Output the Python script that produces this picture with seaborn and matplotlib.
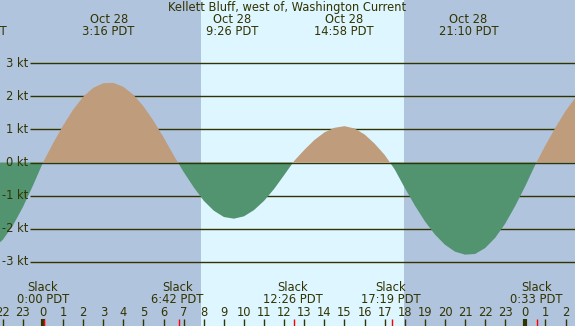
import numpy as np
import pandas as pd
import matplotlib
matplotlib.use("Agg")
import matplotlib.pyplot as plt
import seaborn as sns

# current speed (kt), every half hour (hours from midnight Oct 28 PDT)
hours = [-3.0, -2.5, -2.0, -1.5, -1.0, -0.5, 0.0, 0.5, 1.0, 1.5, 2.0, 2.5, 3.0,
         3.5, 4.0, 4.5, 5.0, 5.5, 6.0, 6.5, 7.0, 7.5, 8.0, 8.5, 9.0, 9.5, 10.0,
         10.5, 11.0, 11.5, 12.0, 12.5, 13.0, 13.5, 14.0, 14.5, 15.0, 15.5, 16.0,
         16.5, 17.0, 17.5, 18.0, 18.5, 19.0, 19.5, 20.0, 20.5, 21.0, 21.5, 22.0,
         22.5, 23.0, 23.5, 24.0, 24.5, 25.0, 25.5, 26.0, 26.5, 27.0]
speed = [-2.70, -2.61, -2.34, -1.91, -1.35, -0.70, 0.00, 0.58, 1.12, 1.60, 1.99,
         2.26, 2.40, 2.41, 2.29, 2.05, 1.70, 1.26, 0.76, 0.22, -0.29, -0.75,
         -1.16, -1.46, -1.65, -1.70, -1.63, -1.44, -1.16, -0.80, -0.38, 0.05,
         0.38, 0.68, 0.91, 1.05, 1.10, 1.03, 0.85, 0.57, 0.23, -0.21, -0.77,
         -1.30, -1.78, -2.18, -2.49, -2.70, -2.79, -2.77, -2.59, -2.28, -1.85,
         -1.31, -0.71, -0.06, 0.52, 1.06, 1.56, 1.97, 2.29]

# max current events (top labels)
max_times = [-3.3, 3.267, 9.433, 14.967, 21.167]
max_dates = ["Oct 27", "Oct 28", "Oct 28", "Oct 28", "Oct 28"]
max_labels = ["20:42 PDT", "3:16 PDT", "9:26 PDT", "14:58 PDT", "21:10 PDT"]

# slack events (bottom labels)
slack_times = [0.0, 6.7, 12.433, 17.317, 24.55]
slack_labels = ["0:00 PDT", "6:42 PDT", "12:26 PDT", "17:19 PDT", "0:33 PDT"]

sunrise, sunset = 7.86, 17.96
kt_levels = [3, 2, 1, 0, -1, -2, -3]
hour_ticks = list(range(-2, 27))

df = pd.DataFrame({"hour": hours, "kt": speed})

TXT = "#333300"
BG = "#b0c4de"
DAY = "#ddf6ff"
FLOOD = "#bf9c7c"
EBB = "#529470"
FS = 8.3

sns.set_style("white")
plt.rcParams["font.family"] = ["DejaVu Sans"]

fig = plt.figure(figsize=(5.75, 3.26), dpi=100)
ax = fig.add_axes([0, 0, 1, 1])
ax.set_facecolor(BG)
ax.set_xlim(-2.14, 26.47)
ax.set_ylim(-4.95, 4.92)
for s in ax.spines.values():
    s.set_visible(False)

ax.axvspan(sunrise, sunset, color=DAY, zorder=0, lw=0)

ytr = ax.get_yaxis_transform()
xtr = ax.get_xaxis_transform()

# grid lines, behind the fills (except 0)
ax.hlines([k for k in kt_levels if k != 0], 0.052, 1, transform=ytr,
          color=TXT, lw=1.0, zorder=1)

ax.fill_between(df["hour"], df["kt"], 0, where=df["kt"] >= 0,
                interpolate=True, color=FLOOD, lw=0, zorder=2)
ax.fill_between(df["hour"], df["kt"], 0, where=df["kt"] <= 0,
                interpolate=True, color=EBB, lw=0, zorder=2)
ax.hlines([0], 0.052, 1, transform=ytr, color=TXT, lw=1.0, zorder=3)

for k in kt_levels:
    ax.text(0.049, k, f"{k} kt", transform=ytr, ha="right", va="center",
            fontsize=FS, color=TXT, zorder=4)

# top labels
ax.text(0.5, 1 - 7.3 / 326, "Kellett Bluff, west of, Washington Current",
        transform=ax.transAxes, ha="center", va="center", fontsize=FS, color=TXT)
for t, d, lab in zip(max_times, max_dates, max_labels):
    ax.text(t, 1 - 19.3 / 326, d, transform=xtr, ha="center", va="center",
            fontsize=FS, color=TXT)
    ax.text(t, 1 - 31.7 / 326, lab, transform=xtr, ha="center", va="center",
            fontsize=FS, color=TXT)

# bottom labels
for t, lab in zip(slack_times, slack_labels):
    ax.text(t, 1 - 287.3 / 326, "Slack", transform=xtr, ha="center",
            va="center", fontsize=FS, color=TXT)
    ax.text(t, 1 - 299.3 / 326, lab, transform=xtr, ha="center",
            va="center", fontsize=FS, color=TXT)

for h in hour_ticks:
    ax.text(h, 1 - 312 / 326, str(h % 24), transform=xtr, ha="center",
            va="center", fontsize=FS, color=TXT)

# tick marks
ax.set_xticks([h for h in hour_ticks if h % 24 == 0])
ax.set_xticks([h for h in hour_ticks if h % 24 != 0], minor=True)
ax.tick_params(axis="x", which="major", direction="in", length=5.2, width=3,
               color=TXT, labelbottom=False, bottom=True)
ax.tick_params(axis="x", which="minor", direction="in", length=5.2, width=1,
               color=TXT, labelbottom=False, bottom=True)
ax.set_yticks([])
ax.vlines([t + 0.05 for t in slack_times], 0, 7.5 / 326, transform=xtr,
          color="#ff0000", lw=1, zorder=5)

fig.savefig("out.png", dpi=100)
